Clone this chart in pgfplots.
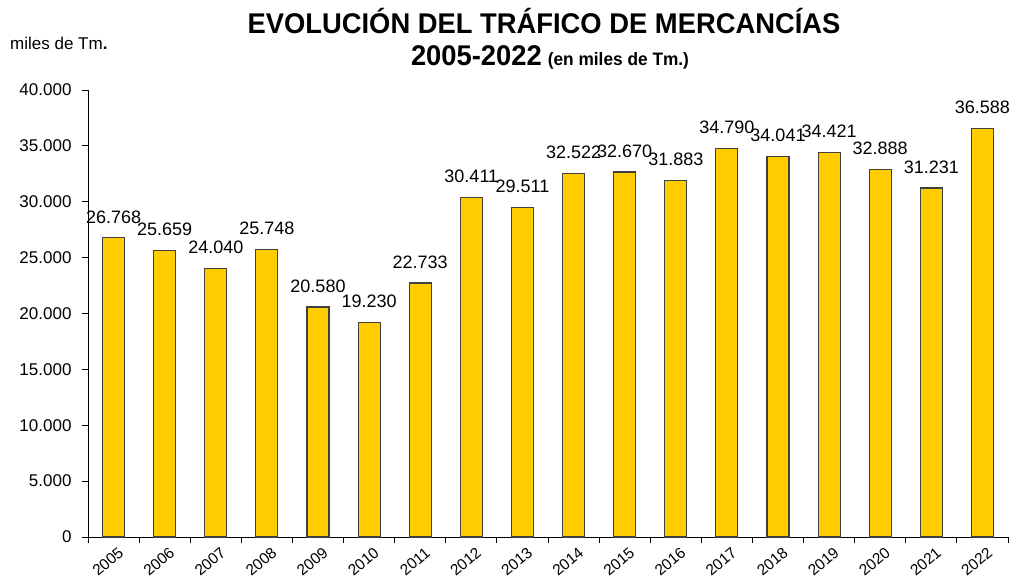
\documentclass[border=0pt]{standalone}
\usepackage{fontspec}
\setmainfont{Liberation Sans}
\newfontfamily\titlefont[FakeStretch=0.96]{Liberation Sans}
\usepackage{pgfplots}
\pgfplotsset{compat=1.18}
\definecolor{barfill}{HTML}{FFCC00}
\definecolor{baredge}{HTML}{404040}

\begin{document}
\begin{tikzpicture}
\useasboundingbox (-88bp,-42bp) rectangle (925bp,537bp);
\begin{axis}[
    scale only axis,
    width=920bp, height=447bp,
    at={(0,0)}, anchor=south west,
    axis x line*=bottom,
    axis y line*=left,
    axis line style={black, line width=0.8bp},
    xmin=-0.5, xmax=17.5,
    ymin=0, ymax=40000,
    ytick distance=5000,
    xtick={0,...,17},
    xticklabels={2005,2006,2007,2008,2009,2010,2011,2012,2013,2014,2015,2016,2017,2018,2019,2020,2021,2022},
    minor xtick={-0.5,0.5,...,17.5},
    tick align=outside,
    major x tick style={draw=none},
    major tick length=6bp,
    minor tick length=6bp,
    every tick/.style={black, line width=0.8bp},
    /pgf/number format/.cd, fixed, precision=0, 1000 sep={.}, assume math mode=true,
    /pgfplots/.cd,
    scaled y ticks=false,
    yticklabel style={font=\fontsize{17bp}{20bp}\selectfont, xshift=-7bp},
    xticklabel style={font=\fontsize{15.5bp}{18bp}\selectfont, rotate=40, anchor=north east, inner sep=0pt, xshift=1bp, yshift=-5bp},
    ybar, bar width=22bp,
    nodes near coords,
    every node near coord/.append style={font=\fontsize{18bp}{21bp}\selectfont, black, inner sep=0pt, yshift=14bp},
]
\addplot[fill=barfill, draw=baredge, line width=1.2bp] coordinates {
    (0,26768)(1,25659)(2,24040)(3,25748)(4,20580)(5,19230)
    (6,22733)(7,30411)(8,29511)(9,32522)(10,32670)(11,31883)
    (12,34790)(13,34041)(14,34421)(15,32888)(16,31231)(17,36588)
};
\end{axis}
\node[anchor=base] at (456bp,503bp) {\titlefont\fontsize{28.5bp}{32bp}\selectfont\bfseries EVOLUCIÓN DEL TRÁFICO DE MERCANCÍAS};
\node[anchor=base] at (462bp,471bp) {\titlefont\bfseries\fontsize{28.5bp}{32bp}\selectfont 2005-2022\hspace{6bp}\fontsize{18bp}{21bp}\selectfont (en miles de Tm.)};
\node[anchor=base west, inner sep=0pt] at (-78bp,487bp) {\fontsize{17bp}{20bp}\selectfont miles de Tm\textbf{.}};
\end{tikzpicture}
\end{document}
